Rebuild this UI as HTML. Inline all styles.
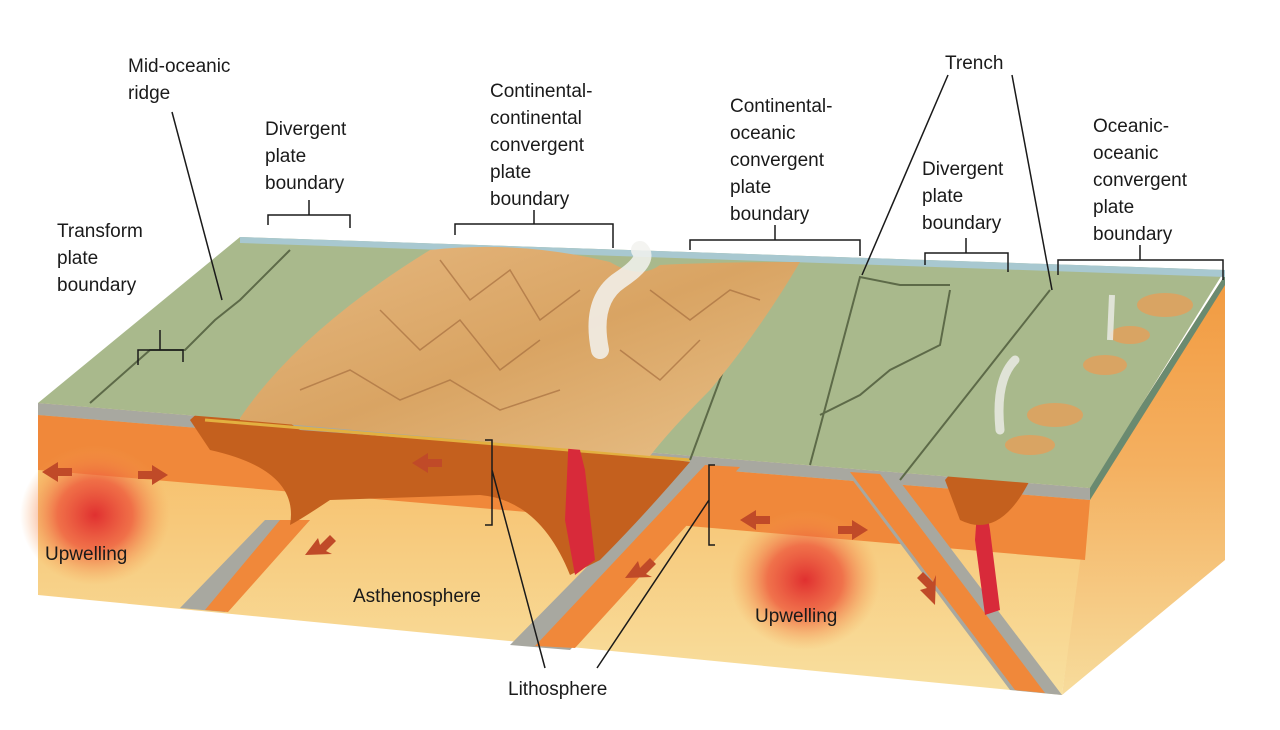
<!DOCTYPE html>
<html><head><meta charset="utf-8"><style>
html,body{margin:0;padding:0;background:#fff;}
svg{display:block;}
text{font-family:"Liberation Sans",sans-serif;font-size:19px;fill:#1a1a1a;}
</style></head><body>
<svg width="1280" height="730" viewBox="0 0 1280 730" xmlns="http://www.w3.org/2000/svg">
<defs>
<linearGradient id="asth" x1="0" y1="0" x2="0" y2="1">
<stop offset="0" stop-color="#f6b860"/><stop offset="1" stop-color="#f8e0a0"/></linearGradient>
<linearGradient id="side" x1="0" y1="0" x2="0" y2="1">
<stop offset="0" stop-color="#f29a40"/><stop offset="0.45" stop-color="#f4b060"/><stop offset="1" stop-color="#f7dc9c"/></linearGradient>
<radialGradient id="up"><stop offset="0" stop-color="#e03030"/><stop offset="0.5" stop-color="#ee5a3c" stop-opacity="0.8"/><stop offset="1" stop-color="#f6a050" stop-opacity="0"/></radialGradient>
<linearGradient id="mtn" x1="0" y1="0" x2="1" y2="1">
<stop offset="0" stop-color="#e6b880"/><stop offset="0.5" stop-color="#d9a463"/><stop offset="1" stop-color="#e8c088"/></linearGradient>
</defs>

<polygon points="1088,488 1225,275 1225,560 1062,695" fill="url(#side)"/>
<polygon points="1088,488 1225,275 1225,285 1090,500" fill="#6a8a70"/>
<polygon points="38,403 1090,488 1062,695 38,595" fill="url(#asth)"/>
<polygon points="38,415 1090,500 1085,560 38,470" fill="#f0883a"/>
<polygon points="38,403 1090,488 1090,500 38,415" fill="#a8a8a0"/>

<ellipse cx="95" cy="515" rx="75" ry="70" fill="url(#up)"/>
<ellipse cx="805" cy="580" rx="75" ry="70" fill="url(#up)"/>

<polygon points="265,520 310,520 225,612 180,608" fill="#a8a8a0"/>
<polygon points="280,520 310,520 228,612 205,610" fill="#f0883a"/>
<polygon points="690,462 740,466 570,650 510,645" fill="#a8a8a0"/>
<polygon points="705,465 740,467 575,648 535,646" fill="#f0883a"/>
<polygon points="845,470 895,475 1062,695 1010,690" fill="#a8a8a0"/>
<polygon points="850,472 880,474 1045,693 1015,690" fill="#f0883a"/>

<path d="M190,420 Q230,380 300,430 L640,455 L690,462 Q640,520 600,560 L570,575 Q540,500 480,495 L330,500 Q300,520 290,525 Q300,470 210,450 Z" fill="#c4601e"/>
<path d="M205,420 L690,460" stroke="#e3b040" stroke-width="3" fill="none"/>
<path d="M570,410 L585,470 L595,560 L575,575 L565,520 Z" fill="#d82a3a"/>
<path d="M980,470 L990,530 L1000,610 L985,615 L975,540 Z" fill="#d82a3a"/>
<path d="M945,480 Q985,430 1030,480 Q1000,540 960,520 Z" fill="#c4601e"/>

<polygon points="38,403 240,237 1225,270 1090,488" fill="#a9b98c"/>
<polygon points="240,237 1225,270 1225,277 240,243" fill="#a8c8d0"/>
<g stroke="#5d6a48" stroke-width="2" fill="none">
<polyline points="90,403 150,350 185,350 215,320 240,300 290,250"/>
<polyline points="690,460 760,272"/>
<polyline points="810,465 860,277 900,285 950,285"/>
<polyline points="820,415 860,395 890,370 940,345 950,290"/>
<polyline points="900,480 1050,290"/>
</g>

<path d="M240,418 Q300,330 430,250 Q520,240 610,262 Q640,280 660,265 Q720,262 800,262 Q760,330 710,390 Q670,430 650,456 L240,420 Z" fill="url(#mtn)"/>
<g stroke="#a87040" stroke-width="1.5" fill="none" opacity="0.7">
<path d="M440,260 L470,300 L510,270 L540,320 L580,290"/>
<path d="M380,310 L420,350 L460,320 L500,370 L540,340"/>
<path d="M300,390 L350,370 L400,400 L450,380 L500,410 L560,390"/>
<path d="M650,290 L690,320 L730,290 L760,300"/>
<path d="M620,350 L660,380 L700,340"/>
</g>
<g fill="#d9a463">
<ellipse cx="1165" cy="305" rx="28" ry="12"/>
<ellipse cx="1130" cy="335" rx="20" ry="9"/>
<ellipse cx="1105" cy="365" rx="22" ry="10"/>
<ellipse cx="1055" cy="415" rx="28" ry="12"/>
<ellipse cx="1030" cy="445" rx="25" ry="10"/>
</g>
<path d="M600,350 Q590,300 620,280 Q650,260 640,250" stroke="#f2f2ee" stroke-width="18" fill="none" opacity="0.85" stroke-linecap="round"/>
<path d="M1000,430 Q995,380 1015,360" stroke="#eeeeea" stroke-width="9" fill="none" opacity="0.8" stroke-linecap="round"/>
<path d="M1110,340 L1112,295" stroke="#eeeeea" stroke-width="6" fill="none" opacity="0.8"/>

<g fill="#c04a28">
<polygon points="42,472 58,462 58,468 72,468 72,476 58,476 58,482"/>
<polygon points="168,475 152,465 152,471 138,471 138,479 152,479 152,485"/>
<polygon points="412,463 428,453 428,459 442,459 442,467 428,467 428,473"/>
<polygon points="740,520 756,510 756,516 770,516 770,524 756,524 756,530"/>
<polygon points="868,530 852,520 852,526 838,526 838,534 852,534 852,540"/>
<polygon points="305,555 318,538 320,545 330,535 336,541 326,551 332,554"/>
<polygon points="625,578 638,561 640,568 650,558 656,564 646,574 652,577"/>
<polygon points="935,605 920,590 927,588 917,578 923,572 933,582 936,575"/>
</g>

<g stroke="#1a1a1a" stroke-width="1.5" fill="none">
<path d="M268,225 V215 H350 V228 M309,215 V200"/>
<path d="M455,235 V224 H613 V248 M534,224 V210"/>
<path d="M690,250 V240 H860 V256 M775,240 V225"/>
<path d="M925,265 V253 H1008 V272 M966,253 V238"/>
<path d="M1058,275 V260 H1223 V280 M1140,260 V245"/>
<path d="M138,365 V350 H183 V362 M160,350 V330"/>
<path d="M172,112 L222,300"/>
<path d="M948,75 L862,275 M1012,75 L1052,290"/>
<path d="M485,440 H492 V525 H485 M492,470 L545,668"/>
<path d="M715,465 H709 V545 H715 M709,500 L597,668"/>
</g>

<text x="128" y="72">Mid-oceanic</text>
<text x="128" y="99">ridge</text>
<text x="265" y="135">Divergent</text>
<text x="265" y="162">plate</text>
<text x="265" y="189">boundary</text>
<text x="57" y="237">Transform</text>
<text x="57" y="264">plate</text>
<text x="57" y="291">boundary</text>
<text x="490" y="97">Continental-</text>
<text x="490" y="124">continental</text>
<text x="490" y="151">convergent</text>
<text x="490" y="178">plate</text>
<text x="490" y="205">boundary</text>
<text x="730" y="112">Continental-</text>
<text x="730" y="139">oceanic</text>
<text x="730" y="166">convergent</text>
<text x="730" y="193">plate</text>
<text x="730" y="220">boundary</text>
<text x="945" y="69">Trench</text>
<text x="922" y="175">Divergent</text>
<text x="922" y="202">plate</text>
<text x="922" y="229">boundary</text>
<text x="1093" y="132">Oceanic-</text>
<text x="1093" y="159">oceanic</text>
<text x="1093" y="186">convergent</text>
<text x="1093" y="213">plate</text>
<text x="1093" y="240">boundary</text>
<text x="45" y="560">Upwelling</text>
<text x="353" y="602">Asthenosphere</text>
<text x="755" y="622">Upwelling</text>
<text x="508" y="695">Lithosphere</text>
</svg>
</body></html>
